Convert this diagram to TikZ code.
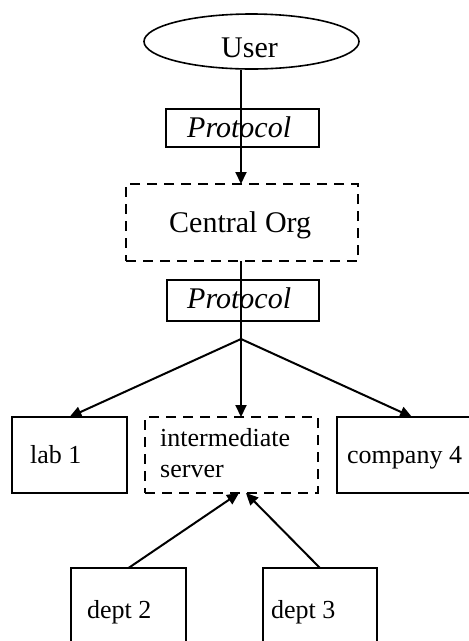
\documentclass[tikz,border=0pt]{standalone}
\usepackage{fontspec}
\setmainfont{Liberation Serif}
\usetikzlibrary{arrows.meta,calc,shapes.geometric}
\begin{document}
\begin{tikzpicture}[x=1pt,y=-1pt,
  box/.style={draw,line width=1.6pt,rectangle,inner sep=0pt,outer sep=0pt},
  dbox/.style={box,dash pattern=on 10pt off 7pt},
  big/.style={font=\fontsize{30}{34}\selectfont,inner sep=0pt,anchor=base west},
  small/.style={font=\fontsize{26}{31}\selectfont,inner sep=0pt,anchor=base west},
  arr/.style={line width=2pt,-{Triangle[length=12pt,width=11pt]}},
  ln/.style={line width=2pt}]
\useasboundingbox (0,0) rectangle (469,641);
% nodes
\node[draw,line width=1.6pt,ellipse,minimum width=215pt,minimum height=55pt,inner sep=0pt] (user) at (251.5,41.5) {};
\node[big] (usertext) at (221,57) {User};
\node[box,minimum width=153pt,minimum height=38pt] (proto1) at (242.5,128) {};
\node[big] (proto1text) at (187,137) {\itshape Protocol};
\node[dbox,minimum width=232pt,minimum height=77pt] (cen) at (242,222.5) {};
\node[big] (centext) at (169,232) {Central Org};
\node[box,minimum width=152pt,minimum height=41pt] (proto2) at (243,300.5) {};
\node[big] (proto2text) at (187,308) {\itshape Protocol};
\coordinate (fork) at (241,339);
\node[box,minimum width=115pt,minimum height=76pt] (lab) at (69.5,455) {};
\node[small] (labtext) at (30,463) {lab 1};
\node[dbox,minimum width=173pt,minimum height=76pt] (inter) at (231.5,455) {};
\node[small] (intertext1) at (160,446) {intermediate};
\node[small] (intertext2) at (160,477) {server};
\node[box,minimum width=150pt,minimum height=76pt] (comp) at (412,455) {};
\node[small] (comptext) at (347,463) {company 4};
\node[box,minimum width=115pt,minimum height=100pt] (dept2) at (128.5,618) {};
\node[small] (dept2text) at (87,618) {dept 2};
\node[box,minimum width=114pt,minimum height=100pt] (dept3) at (320,618) {};
\node[small] (dept3text) at (271,618) {dept 3};
\coordinate (tipa) at (239,493);
\coordinate (tipb) at (246,493);
% connectors
\draw[arr] (fork |- user.south) -- (fork |- cen.north);
\draw[ln] (fork |- cen.south) -- (fork);
\draw[arr] (fork) -- (lab.north);
\draw[arr] (fork) -- (fork |- inter.north);
\draw[arr] (fork) -- (comp.north);
\draw[arr] (dept2.north) -- (tipa);
\draw[arr] (dept3.north) -- (tipb);
\end{tikzpicture}
\end{document}
